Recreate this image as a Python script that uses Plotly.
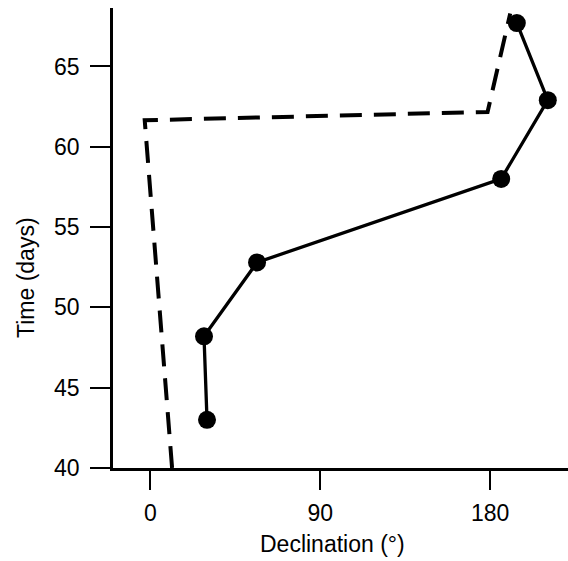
import plotly.graph_objects as go

# Measured series (declination in degrees, time in days)
meas_decl = [30.0, 28.4, 56.5, 185.8, 210.5, 194.1]
meas_time = [43.0, 48.2, 52.8, 58.0, 62.9, 67.7]

# Model (dashed) series
model_decl = [11.5, -3.0, 178.6, 190.6]
model_time = [40.0, 61.65, 62.17, 68.3]

x_ticks = [0, 90, 180]
y_ticks = [40, 45, 50, 55, 60, 65]

FONT = "Liberation Sans, Arial, sans-serif"
L, R, T, B = 113, 0, 8, 93
PW, PH = 568 - L - R, 561 - T - B

fig = go.Figure()
fig.add_trace(go.Scatter(
    x=model_decl, y=model_time, mode="lines",
    line=dict(color="black", width=4, dash="22px,12px"),
    showlegend=False, hoverinfo="skip"))
fig.add_trace(go.Scatter(
    x=meas_decl, y=meas_time, mode="lines+markers",
    line=dict(color="black", width=3.3),
    marker=dict(color="black", size=18),
    showlegend=False))

fig.update_layout(
    width=568, height=561,
    margin=dict(l=L, r=R, t=T, b=B),
    paper_bgcolor="white", plot_bgcolor="white",
    font=dict(family=FONT, size=23, color="black"),
    xaxis=dict(range=[-19.8, 221.2], tickvals=x_ticks, ticktext=[str(v) for v in x_ticks],
               showline=True, linecolor="black", linewidth=2.5,
               ticks="outside", ticklen=19, tickwidth=2, tickcolor="black",
               ticklabelstandoff=4,
               showgrid=False, zeroline=False, tickfont=dict(size=23)),
    yaxis=dict(range=[40, 68.64], tickvals=y_ticks, ticktext=[str(v) for v in y_ticks],
               showline=True, linecolor="black", linewidth=2.5,
               ticks="outside", ticklen=20, tickwidth=2, tickcolor="black",
               ticklabelstandoff=6,
               showgrid=False, zeroline=False, tickfont=dict(size=23)),
    annotations=[
        dict(text="Declination (°)", xref="paper", yref="paper",
             x=(332 - L) / PW, y=(561 - B - 544) / PH,
             xanchor="center", yanchor="middle", showarrow=False,
             font=dict(size=23)),
        dict(text="Time (days)", xref="paper", yref="paper",
             x=(26 - L) / PW, y=(561 - B - 278) / PH, textangle=-90,
             xanchor="center", yanchor="middle", showarrow=False,
             font=dict(size=23)),
    ],
)

fig.write_html("out.html", config={"displayModeBar": False},
               post_script="document.body.style.margin='0';")
